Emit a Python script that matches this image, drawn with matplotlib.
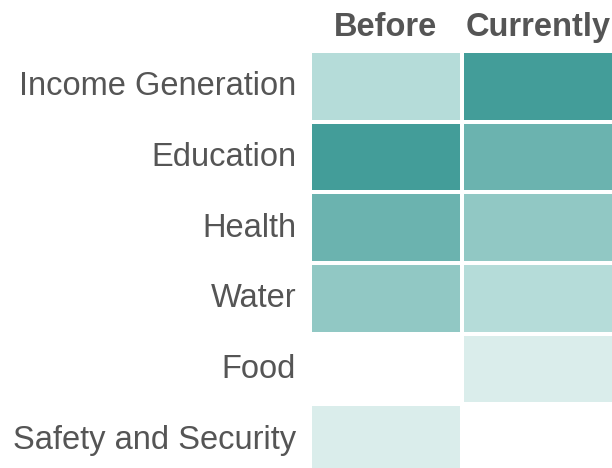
import matplotlib.pyplot as plt
import matplotlib.transforms as mtransforms
import numpy as np
from matplotlib.colors import ListedColormap, BoundaryNorm

plt.rcParams['font.family'] = ['Liberation Sans', 'DejaVu Sans']

categories = ['Income Generation', 'Education', 'Health', 'Water', 'Food',
              'Safety and Security']
columns = ['Before', 'Currently']
before = [2, 5, 4, 3, 0, 1]
currently = [5, 4, 3, 2, 1, 0]

palette = ['#ffffff', '#daedeb', '#b5dcd9', '#91c8c4', '#6bb3af', '#439d99']
text_color = '#555555'

data = np.array([before, currently]).T

W, H = 612, 468
fig = plt.figure(figsize=(W / 100, H / 100), dpi=100)
ax = fig.add_axes([310 / W, 1 - 475 / H, 304 / W, 424 / H])

cmap = ListedColormap(palette)
norm = BoundaryNorm(np.arange(-0.5, 6.5, 1), cmap.N)
ax.pcolormesh(data, cmap=cmap, norm=norm, edgecolors='white', linewidth=1.6)
ax.set_xlim(0, 2)
ax.set_ylim(0, len(categories))
ax.invert_yaxis()

ax.set_yticks(np.arange(len(categories)) + 0.5)
ax.set_yticklabels(categories, fontsize=23.5, color=text_color)
ax.xaxis.tick_top()
ax.set_xticks(np.arange(len(columns)) + 0.5)
ax.set_xticklabels(columns, fontsize=23.5, fontweight='bold', color=text_color)
ax.tick_params(axis='y', length=0, pad=10)
ax.tick_params(axis='x', length=0, pad=6)
for s in ax.spines.values():
    s.set_visible(False)

# nudge row labels up a little
shift = mtransforms.ScaledTranslation(0, 3 / 100, fig.dpi_scale_trans)
for lbl in ax.get_yticklabels():
    lbl.set_transform(lbl.get_transform() + shift)

fig.savefig('out.png', dpi=100)
